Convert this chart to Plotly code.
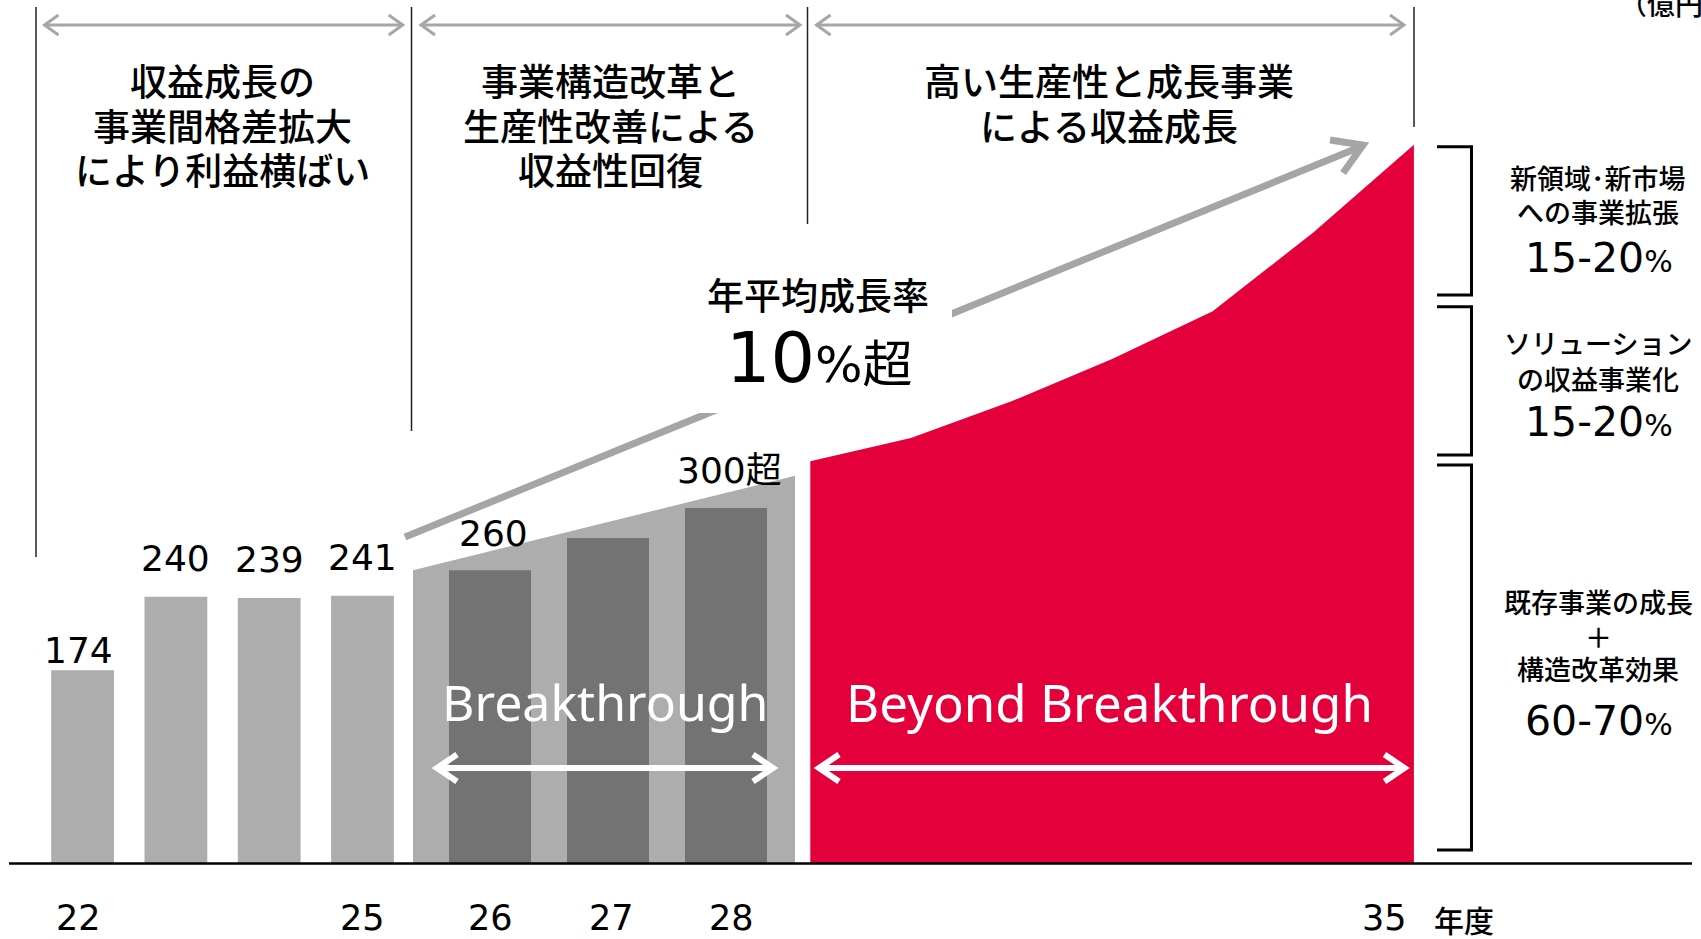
import plotly.graph_objects as go

# 営業利益（億円）
past_years = [22, 23, 24, 25]
past_profit = [174, 240, 239, 241]
past_labels = ["174", "240", "239", "241"]

bt_years = [26, 27, 28]
bt_profit = [264, 293, 320]
bt_labels = ["260", "", "300超"]
bt_trend = [264, 349]  # Breakthrough 帯の始点・終点

bb_years = [29, 30, 31, 32, 33, 34, 35]
bb_profit = [362, 383, 416, 454, 497, 568, 647]

tick_years = [22, 25, 26, 27, 28, 35]

phase_titles = [
    ["収益成長の", "事業間格差拡大", "により利益横ばい"],
    ["事業構造改革と", "生産性改善による", "収益性回復"],
    ["高い生産性と成長事業", "による収益成長"],
]
mix_titles = [
    ["新領域･新市場", "への事業拡張"],
    ["ソリューション", "の収益事業化"],
    ["既存事業の成長", "＋", "構造改革効果"],
]
mix_shares = ["15-20", "15-20", "60-70"]

# ---- レイアウト定数（px） ----
W, H = 1701, 939
BASE = 863.5      # ゼロ線
PX_PER = 1.111    # 1億円あたりのpx

JP = "Noto Sans CJK JP"
WIDE = "DejaVu Sans, Noto Sans CJK JP"
LIGHT = "#adadad"
DARK = "#737373"
RED = "#e4003a"
ARROW = "#a5a5a5"

# 区間ごとのx軸: (左端px, 右端px, 基準年, 基準年の中心px, 1年あたりpx)
SEG = {
    "x": (0, 411, 22, 82.6, 93.3),
    "x2": (411, 805, 26, 490, 118),
    "x3": (805, W, 29, 810.3, 100.6),
}


def to_year(ax, px):
    p0, p1, y0, c0, step = SEG[ax]
    return y0 + (px - c0) / step


def seg_axis(ax):
    p0, p1, y0, c0, step = SEG[ax]
    return dict(domain=[p0 / W, p1 / W], range=[to_year(ax, p0), to_year(ax, p1)],
                visible=False, fixedrange=True, anchor="y")


def fx(px):
    return px / W


def fy(py):
    return 1 - py / H


def path(pts, close=False):
    s = "M " + " L ".join(f"{fx(x)},{fy(y)}" for x, y in pts)
    return s + (" Z" if close else "")


fig = go.Figure()

fig.add_trace(go.Bar(x=past_years, y=past_profit, width=62.8 / 93.3,
                     marker=dict(color=LIGHT, line_width=0), xaxis="x", yaxis="y"))
fig.add_trace(go.Bar(x=bt_years, y=bt_profit, width=82 / 118,
                     marker=dict(color=DARK, line_width=0), xaxis="x2", yaxis="y"))
fig.add_trace(go.Scatter(x=[bb_years[0]] + bb_years + [bb_years[-1]],
                         y=[0] + bb_profit + [0], fill="toself", fillcolor=RED,
                         mode="none", xaxis="x3", yaxis="y"))

shapes = []

# Breakthrough の帯
bx0, bx1 = to_year("x2", 413), to_year("x2", 795)
shapes.append(dict(type="path", xref="x2", yref="y", layer="below",
                   path=f"M {bx0},0 L {bx0},{bt_trend[0]} L {bx1},{bt_trend[1]} L {bx1},0 Z",
                   fillcolor=LIGHT, line_width=0))

# 区切りの縦線
for x, y1 in [(36, 557), (411.5, 431), (807.5, 224), (1414, 127)]:
    shapes.append(dict(type="line", xref="paper", yref="paper",
                       x0=fx(x), x1=fx(x), y0=fy(7), y1=fy(y1),
                       line=dict(color="#222222", width=1.5)))


def double_arrow(x0, x1, y, color, width, hx, hy):
    shapes.append(dict(type="line", xref="paper", yref="paper", x0=fx(x0), x1=fx(x1),
                       y0=fy(y), y1=fy(y), line=dict(color=color, width=width)))
    shapes.append(dict(type="path", xref="paper", yref="paper",
                       path=path([(x0 + hx, y - hy), (x0, y), (x0 + hx, y + hy)]),
                       line=dict(color=color, width=width)))
    shapes.append(dict(type="path", xref="paper", yref="paper",
                       path=path([(x1 - hx, y - hy), (x1, y), (x1 - hx, y + hy)]),
                       line=dict(color=color, width=width)))


# 上部の期間矢印
for a, b in [(44.5, 402.7), (421, 800), (816.5, 1404)]:
    double_arrow(a, b, 25, "#a6a6a6", 3, 14, 10)

# 白い期間矢印
double_arrow(437, 773, 768, "white", 6, 20, 13.5)
double_arrow(819, 1404.5, 768, "white", 6, 20, 13.5)

# 成長率の矢印
shapes.append(dict(type="line", xref="paper", yref="paper", x0=fx(405), y0=fy(537),
                   x1=fx(1360), y1=fy(147), line=dict(color=ARROW, width=7)))
shapes.append(dict(type="path", xref="paper", yref="paper",
                   path=path([(1330, 140), (1363, 145), (1343, 173)]),
                   line=dict(color=ARROW, width=7)))
shapes.append(dict(type="rect", xref="paper", yref="paper", x0=fx(690), x1=fx(952),
                   y0=fy(413), y1=fy(250), fillcolor="white", line_width=0))

# 右側の括弧
for t, b in [(146.7, 295), (306.7, 455), (465, 850)]:
    shapes.append(dict(type="path", xref="paper", yref="paper",
                       path=path([(1437, t), (1471.5, t), (1471.5, b), (1437, b)]),
                       line=dict(color="black", width=3)))

# ゼロ線
shapes.append(dict(type="line", xref="paper", yref="paper", x0=fx(9), x1=fx(1692),
                   y0=fy(BASE), y1=fy(BASE), line=dict(color="black", width=2.5)))


def label(px, py, s, size, family=JP, color="black", xanchor="center", weight=None, box=None):
    font = dict(size=size, family=family, color=color)
    if weight:
        font["weight"] = weight
    fig.add_annotation(x=fx(px), y=fy(py), xref="paper", yref="paper", text=s,
                       showarrow=False, xanchor=xanchor, yanchor="middle", font=font,
                       borderpad=0, height=box)


# 見出し
for cx, lines in zip([222, 610, 1109], phase_titles):
    for i, t in enumerate(lines):
        label(cx, 80 + 44.5 * i, t, 37, weight=500, box=44)

# 値ラベル
past_gap = [20, 38, 38, 38]
past_dx = [-4, 0, 0, 0]
for yr, v, t, g, dx in zip(past_years, past_profit, past_labels, past_gap, past_dx):
    fig.add_annotation(x=yr, y=v, xref="x", yref="y", text=t, showarrow=False,
                       yshift=g, xshift=dx, yanchor="middle", borderpad=0,
                       font=dict(size=36, family=WIDE, color="black"))
for yr, v, t in zip(bt_years, bt_profit, bt_labels):
    if t:
        fig.add_annotation(x=yr, y=v, xref="x2", yref="y", text=t, showarrow=False,
                           yshift=37, xshift=3, yanchor="middle", borderpad=0,
                           font=dict(size=36, family=WIDE, color="black"))

# 年平均成長率
label(818, 294, "年平均成長率", 37, weight=500, box=40)
label(819, 358, '10<span style="font-size:50px">%超</span>', 70, family=WIDE, box=80)

# 期間名
label(605.5, 702, "Breakthrough", 50, family="Noto Sans", color="white")
label(1109.6, 702, "Beyond Breakthrough", 51, family="Noto Sans", color="white")

# x軸ラベル
tick_ax = {22: "x", 25: "x", 26: "x2", 27: "x2", 28: "x2", 35: "x3"}
tick_dx = [-4, 0, 0, 3, 5, -29]
for yr, dx in zip(tick_years, tick_dx):
    fig.add_annotation(x=yr, y=fy(918), xref=tick_ax[yr], yref="paper", text=str(yr),
                       showarrow=False, yanchor="middle", borderpad=0, xshift=dx,
                       font=dict(size=35, family=WIDE, color="black"))
label(1464, 919, "年度", 30, weight=500, box=36)
label(1618, 3, "（億円）", 28, xanchor="left", weight=500)

# 構成比
mix_rows = [([177, 211], 258), ([342, 377.5], 422), ([601, 636, 668], 721)]
for (ys, sy), lines, share in zip(mix_rows, mix_titles, mix_shares):
    for y, t in zip(ys, lines):
        label(1598, y, t, 27, weight=500, box=32)
    label(1599, sy, share + '<span style="font-size:30px">%</span>', 41, family=WIDE, box=44)

fig.update_layout(
    width=W, height=H,
    margin=dict(l=0, r=0, t=0, b=0),
    paper_bgcolor="white", plot_bgcolor="white",
    showlegend=False, hovermode=False,
    xaxis=seg_axis("x"), xaxis2=seg_axis("x2"), xaxis3=seg_axis("x3"),
    yaxis=dict(range=[-(H - BASE) / PX_PER, BASE / PX_PER], visible=False, fixedrange=True),
    shapes=shapes,
)

fig.write_html("out.html", config={"displayModeBar": False},
               post_script="document.body.style.margin='0';")
